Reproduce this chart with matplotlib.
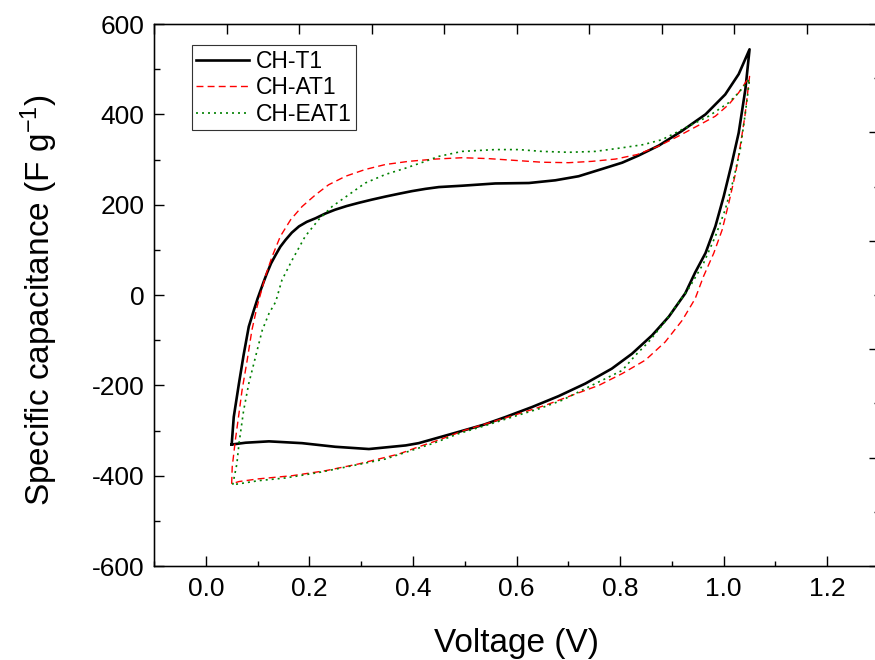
import numpy as np
import matplotlib
matplotlib.use('Agg')
import matplotlib.pyplot as plt
from matplotlib.ticker import MultipleLocator

plt.rcParams['font.family'] = ['Liberation Sans', 'DejaVu Sans']
plt.rcParams['mathtext.fontset'] = 'custom'
plt.rcParams['mathtext.rm'] = 'Liberation Sans'
plt.rcParams['mathtext.it'] = 'Liberation Sans:italic'
plt.rcParams['axes.unicode_minus'] = False

# CH-T1: bucle cerrado (barrido anodico y luego catodico)
t1_volt = [0.050, 0.054, 0.064, 0.073, 0.083, 0.093, 0.100, 0.106, 0.112, 0.118,
           0.126, 0.135, 0.144, 0.154, 0.166, 0.180, 0.195, 0.212, 0.230, 0.250,
           0.272, 0.295, 0.320, 0.347, 0.372, 0.398, 0.424, 0.450, 0.495, 0.559,
           0.624, 0.675, 0.720, 0.765, 0.804, 0.836, 0.875, 0.919, 0.965, 1.003,
           1.029, 1.050,
           1.042, 1.029, 1.016, 1.000, 0.984, 0.965, 0.945, 0.926, 0.894, 0.862,
           0.823, 0.784, 0.733, 0.681, 0.630, 0.579, 0.537, 0.476, 0.411, 0.386,
           0.315, 0.250, 0.186, 0.122, 0.077, 0.050]
t1_cap = [-331, -270, -196, -133, -70, -33, -8, 11, 30, 48,
          70, 89, 107, 122, 138, 152, 162, 170, 180, 189,
          197, 204, 211, 218, 224, 230, 235, 239, 242, 247,
          248, 254, 263, 279, 293, 309, 331, 363, 400, 444,
          489, 544,
          456, 359, 293, 218, 152, 93, 50, 4, -48, -89,
          -130, -163, -196, -224, -248, -270, -287, -307, -328, -333,
          -341, -336, -328, -324, -327, -331]

# CH-AT1
at1_volt = [0.050, 0.051, 0.057, 0.064, 0.070, 0.080, 0.089, 0.099, 0.115, 0.128,
            0.144, 0.164, 0.186, 0.212, 0.237, 0.270, 0.308, 0.347, 0.392, 0.443,
            0.495, 0.546, 0.598, 0.649, 0.701, 0.746, 0.791, 0.833, 0.875, 0.913,
            0.952, 0.984, 1.010, 1.029, 1.050,
            1.041, 1.032, 1.023, 1.010, 0.997, 0.981, 0.961, 0.945, 0.920, 0.887,
            0.849, 0.804, 0.759, 0.707, 0.656, 0.604, 0.553, 0.501, 0.450, 0.411,
            0.373, 0.295, 0.231, 0.167, 0.102, 0.064, 0.050]
at1_cap = [-418, -381, -322, -263, -211, -144, -78, -26, 41, 85,
           130, 167, 196, 222, 244, 263, 278, 289, 296, 301,
           304, 302, 298, 294, 293, 296, 301, 311, 330, 352,
           376, 396, 422, 448, 484,
           396, 330, 270, 204, 144, 93, 41, -8, -56, -104,
           -144, -174, -200, -222, -244, -263, -281, -299, -321, -336,
           -352, -374, -389, -400, -407, -413, -418]

# CH-EAT1
eat1_volt = [0.052, 0.060, 0.064, 0.073, 0.083, 0.096, 0.109, 0.122, 0.135, 0.147,
             0.167, 0.192, 0.218, 0.244, 0.276, 0.308, 0.347, 0.386, 0.424, 0.450,
             0.495, 0.559, 0.604, 0.649, 0.701, 0.752, 0.804, 0.845, 0.881, 0.926,
             0.971, 1.010, 1.029, 1.050,
             1.042, 1.032, 1.019, 1.003, 0.984, 0.961, 0.934, 0.884, 0.855, 0.830,
             0.804, 0.772, 0.733, 0.688, 0.643, 0.592, 0.540, 0.488, 0.440, 0.347,
             0.283, 0.218, 0.154, 0.102, 0.064, 0.052]
eat1_cap = [-420, -374, -330, -256, -196, -137, -78, -41, -15, 33,
            78, 130, 167, 196, 222, 248, 267, 281, 296, 307,
            318, 322, 322, 318, 316, 318, 326, 333, 344, 370,
            396, 426, 448, 478,
            404, 322, 256, 189, 130, 70, 17, -63, -104, -133,
            -167, -185, -207, -233, -252, -270, -289, -307, -328, -363,
            -378, -393, -405, -411, -418, -420]

fig = plt.figure(figsize=(8.75, 6.6), dpi=100)
ax = fig.add_axes([0.176, 0.1424, 0.8286, 0.8212])

ax.plot(t1_volt, t1_cap, color='black', lw=1.9, label='CH-T1')
ax.plot(at1_volt, at1_cap, color='#ff0000', lw=1.0, dashes=(5, 3), label='CH-AT1')
ax.plot(eat1_volt, eat1_cap, color='#008000', lw=1.2, dashes=(1.2, 2.4), label='CH-EAT1')

ax.set_xlim(-0.1, 1.3)
ax.set_ylim(-600, 600)
ax.xaxis.set_major_locator(MultipleLocator(0.2))
ax.xaxis.set_minor_locator(MultipleLocator(0.1))
ax.yaxis.set_major_locator(MultipleLocator(200))
ax.yaxis.set_minor_locator(MultipleLocator(100))
ax.set_xticks(np.arange(0, 1.21, 0.2))
ax.set_xticklabels(['0.0', '0.2', '0.4', '0.6', '0.8', '1.0', '1.2'])

ax.tick_params(which='both', direction='in', width=1.0, labelsize=19,
               top=False, right=False)
ax.tick_params(axis='x', which='major', length=7.5, pad=8)
ax.tick_params(axis='x', which='minor', length=3.8)
ax.tick_params(axis='y', which='major', length=7.5, pad=7)
ax.tick_params(axis='y', which='minor', length=4.5)
for s in ax.spines.values():
    s.set_linewidth(1.0)

# ejes superior y derecho (escala propia, sin etiquetas)
ax_top = ax.twiny()
ax_top.set_xlim(0, 10)
ax_top.set_xticks(range(11))
ax_top.tick_params(axis='x', direction='in', length=7.5, width=1.0, labeltop=False)
ax_right = ax.twinx()
ax_right.set_ylim(0, 10)
ax_right.yaxis.set_major_locator(MultipleLocator(2))
ax_right.yaxis.set_minor_locator(MultipleLocator(1))
ax_right.tick_params(axis='y', which='major', direction='in', length=7.5, width=1.0,
                     labelright=False)
ax_right.tick_params(axis='y', which='minor', direction='in', length=3.8, width=1.0)

ax.set_xlabel('Voltage (V)', fontsize=24)
ax.set_ylabel(r'Specific capacitance (F g$^{-1}$)', fontsize=24)
ax.xaxis.set_label_coords(0.5, -0.115)
ax.yaxis.set_label_coords(-0.13, 0.49)

leg = ax.legend(loc='upper left', bbox_to_anchor=(0.052, 0.961), borderaxespad=0,
                fontsize=16.5, frameon=True, fancybox=False, framealpha=1,
                edgecolor='#333333', handlelength=2.3, handletextpad=0.3,
                borderpad=0.2, labelspacing=0.15)
leg.get_frame().set_linewidth(0.8)

fig.savefig('out.png', dpi=100)
